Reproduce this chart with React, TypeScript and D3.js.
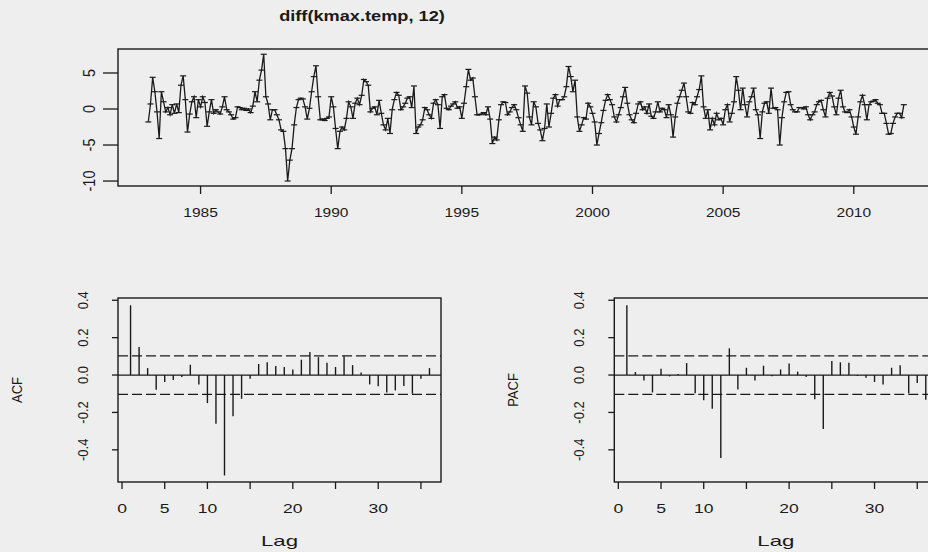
import React from "react";
import * as d3 from "d3";

// monthly values of diff(kmax.temp, 12), Jan 1983 .. Dec 2011
const startYear = 1983;
const series = [
  -1.8, 0.7, 4.4, 2.4, -0.4, -4.1, 2.4, 1.0, -0.4, 0.2, -0.8, 0.6,
  -0.6, 0.7, -0.5, 3.3, 4.6, 1.3, -3.2, -0.7, 1.0, 1.7, -1.2, 1.3,
  0.3, 1.7, 0.9, -2.4, -0.4, 1.3, -0.6, -0.1, -0.4, -0.7, 0.3, 1.7,
  -0.1, -0.4, -0.8, -1.4, -1.2, 0.3, 0.2, -0.1, 0.1, -0.2, 0.0, -0.5,
  0.4, 2.4, 1.0, 4.0, 5.4, 7.6, 1.7, 0.7, -1.5, -0.1, -0.1, -0.8,
  -1.5, -2.9, -3.1, -5.5, -10.0, -7.1, -5.5, -2.2, 0.2, 1.3, 1.5, 1.4,
  0.3, -1.4, 0.1, 2.4, 4.5, 6.0, 1.7, -1.5, -1.4, -1.6, -1.3, -1.1,
  1.7, 0.3, -2.7, -5.5, -3.1, -2.5, -2.9, -1.3, 1.0, 0.3, -1.3, 0.8,
  1.5, 0.6, 1.9, 4.1, 3.8, 3.3, -0.4, 0.1, 0.3, -0.8, 1.2, -0.6,
  -2.2, -2.9, -1.3, -3.4, -0.1, 1.3, 2.3, 1.9, -0.1, 0.3, 0.8, 1.5,
  1.7, 0.2, 3.2, -3.4, -2.5, -2.2, -1.5, 0.2, -0.1, -0.8, -1.3, 0.8,
  1.3, 0.6, -2.7, 1.7, 2.0, 0.1, -0.1, 0.4, 0.7, 1.0, 0.1, 0.3,
  -1.3, 0.8, 3.1, 5.5, 4.0, 4.3, 1.7, -0.8, -0.8, -0.7, -0.5, -0.8,
  0.3, -1.4, -4.8, -3.9, -4.3, -1.5, 0.6, 1.0, 0.9, -0.8, -0.4, 0.2,
  0.6, -0.1, -1.2, -2.2, -3.1, 3.2, 2.2, -1.1, -2.2, 1.0, 0.3, -2.0,
  -2.9, -4.4, -2.7, 0.7, -2.5, -0.6, 1.5, 2.0, 0.4, 1.3, 1.3, 1.7,
  3.1, 5.9, 4.5, 2.4, 4.0, -1.1, -3.1, -2.2, -1.2, -1.4, 0.8, 0.3,
  -0.6, -1.8, -5.0, -3.4, -1.9, -0.2, 1.2, 2.0, 1.3, 0.6, -1.1, -1.8,
  -0.8, 0.2, 1.7, 3.0, 0.8, -0.8, -1.5, -1.9, -0.6, 0.7, 1.0, -0.1,
  0.3, -0.6, 0.7, -1.0, -1.3, -0.4, 1.0, -0.4, 0.1, -0.1, -1.2, 0.6,
  -0.8, -3.9, -1.1, 0.8, 1.7, 2.6, 3.6, 1.7, -0.4, -0.6, 0.9, 0.6,
  1.7, 2.7, 4.6, 0.3, -1.3, -0.1, -2.9, -1.3, -2.2, -0.6, -1.5, -1.3,
  -2.2, -0.1, 0.6, -1.8, -0.6, 1.0, 4.5, 2.6, -0.1, 2.9, 0.6, -1.1,
  1.0, 1.7, 2.9, -0.1, -0.8, -4.1, -0.4, 0.8, 1.0, -0.6, 2.9, 0.1,
  0.2, -0.1, -5.0, -1.2, 1.0, 2.3, 2.4, 0.6, -0.1, -0.4, -0.4, 0.2,
  0.2, 0.0, 0.3, -0.8, -1.5, -0.8, -0.4, 0.6, 1.0, 1.2, -0.1, -1.1,
  1.5, 2.3, 1.8, 0.3, -0.8, 1.5, 2.6, 0.3, -0.4, -0.5, -0.1, -1.1,
  -2.5, -3.5, -1.1, 1.0, 1.9, 0.6, -1.5, 0.6, 1.0, 1.1, 1.3, 0.8,
  0.6, -0.6, -0.6, -2.0, -3.5, -3.4, -2.0, -1.1, -0.6, -0.6, -1.2, 0.6,
];

const yearTicks = [1985, 1990, 1995, 2000, 2005, 2010];
const seriesTicks = [5, 0, -5, -10];

// lags 1..36
const acf = [
  0.373, 0.15, 0.037, -0.078, -0.037, -0.027, -0.01, 0.055, -0.05, -0.15,
  -0.26, -0.537, -0.22, -0.127, -0.02, 0.059, 0.068, 0.048, 0.043, 0.029,
  0.082, 0.123, 0.096, 0.066, 0.043, 0.1, 0.053, 0.014, -0.05, -0.06,
  -0.093, -0.082, -0.059, -0.1, -0.02, 0.037,
];
const pacf = [
  0.373, 0.016, -0.029, -0.093, 0.034, -0.007, 0.005, 0.064, -0.098, -0.135,
  -0.18, -0.444, 0.143, -0.077, 0.039, -0.029, 0.05, -0.007, 0.03, 0.062,
  0.018, -0.011, -0.13, -0.289, 0.075, 0.068, 0.066, -0.005, -0.014, -0.037,
  -0.05, 0.039, 0.052, -0.098, -0.043, -0.132,
];
const confBound = 0.103;
const lagTicks = [0, 5, 10, 15, 20, 25, 30, 35];
const lagLabels = [0, 5, 10, 20, 30];
const corrTicks = [0.4, 0.2, 0.0, -0.2, -0.4];

const FONT = "'Liberation Sans', Arial, sans-serif";
const INK = "#1a1a1a";

// scanned labels come out wider than the font would draw them
const HText = ({ x, y, size = 13.5, sx = 1.3, weight = "normal", children }) => (
  <text
    transform={`translate(${x},${y}) scale(${sx},1)`}
    textAnchor="middle"
    fontFamily={FONT}
    fontSize={size}
    fontWeight={weight}
    fill={INK}
  >
    {children}
  </text>
);

const VText = ({ x, y, size = 13, children }) => (
  <text
    transform={`translate(${x},${y}) rotate(-90) scale(1,1.12)`}
    textAnchor="middle"
    fontFamily={FONT}
    fontSize={size}
    fill={INK}
  >
    {children}
  </text>
);

const CorrPanel = ({ values, left, label }) => {
  const x = d3.scaleLinear().domain([-0.47, 37.35]).range([left, left + 323]);
  const y = d3.scaleLinear().domain([-0.572, 0.412]).range([482, 298]);
  const [x0, x1] = x.range();
  return (
    <g>
      <rect x={x0} y={298} width={x1 - x0} height={184} fill="none" stroke={INK} strokeWidth={1.4} />
      <line x1={x0} x2={x1} y1={y(0)} y2={y(0)} stroke={INK} strokeWidth={1.3} />
      {[confBound, -confBound].map((b) => (
        <line key={b} x1={x0} x2={x1} y1={y(b)} y2={y(b)} stroke={INK} strokeWidth={1.2} strokeDasharray="10,4" />
      ))}
      {values.map((v, i) => (
        <line key={i} x1={x(i + 1)} x2={x(i + 1)} y1={y(0)} y2={y(v)} stroke={INK} strokeWidth={1.4} />
      ))}
      {lagTicks.map((t) => (
        <line key={t} x1={x(t)} x2={x(t)} y1={482} y2={489} stroke={INK} strokeWidth={1.3} />
      ))}
      {lagLabels.map((t) => (
        <HText key={t} x={x(t)} y={513}>{t}</HText>
      ))}
      {corrTicks.map((t) => (
        <g key={t}>
          <line x1={x0 - 6} x2={x0} y1={y(t)} y2={y(t)} stroke={INK} strokeWidth={1.3} />
          <VText x={x0 - 30} y={y(t)}>{t.toFixed(1)}</VText>
        </g>
      ))}
      <HText x={(x0 + x1) / 2} y={546} size={15} sx={1.48}>Lag</HText>
      <VText x={x0 - 96} y={390}>{label}</VText>
    </g>
  );
};

const App = () => {
  const width = 928;
  const height = 552;
  const x = d3.scaleLinear().domain([1981.84, 2013.07]).range([118, 934]);
  const y = d3.scaleLinear().domain([-10.69, 8.33]).range([186, 49]);
  const pts = series.map((v, i) => [x(startYear + i / 12), y(v)]);
  const line = d3.line()(pts);

  return (
    <svg
      width={width}
      height={height}
      style={{ position: "absolute", left: 0, top: 0, background: "#eeeeee" }}
    >
      <rect width={width} height={height} fill="#eeeeee" />
      <HText x={362} y={21} size={14} weight="bold">diff(kmax.temp, 12)</HText>

      {/* time series panel */}
      <rect x={118} y={49} width={816} height={137} fill="none" stroke={INK} strokeWidth={1.4} />
      <path d={line} fill="none" stroke={INK} strokeWidth={1.3} />
      {pts.map(([px, py], i) => (
        <line key={i} x1={px - 3} x2={px + 3} y1={py} y2={py} stroke={INK} strokeWidth={1.2} />
      ))}
      {yearTicks.map((t) => (
        <g key={t}>
          <line x1={x(t)} x2={x(t)} y1={186} y2={194} stroke={INK} strokeWidth={1.3} />
          <HText x={x(t)} y={217} sx={1.15}>{t}</HText>
        </g>
      ))}
      {seriesTicks.map((t) => (
        <g key={t}>
          <line x1={103} x2={118} y1={y(t)} y2={y(t)} stroke={INK} strokeWidth={1.3} />
          <VText x={95} y={y(t)} size={14.5}>{t}</VText>
        </g>
      ))}

      <CorrPanel values={acf} left={118} label="ACF" />
      <CorrPanel values={pacf} left={614.3} label="PACF" />
    </svg>
  );
};

export default App;
